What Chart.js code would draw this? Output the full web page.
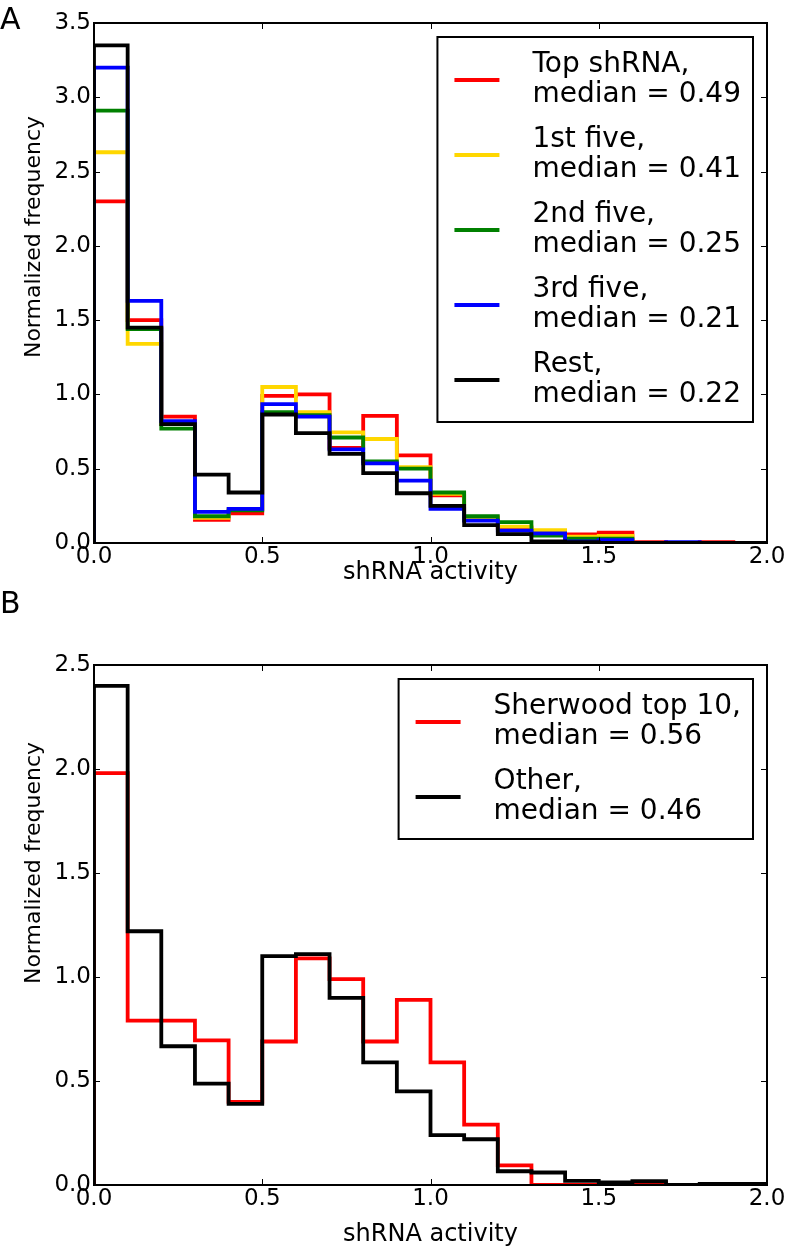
<!DOCTYPE html>
<html>
<head>
<meta charset="utf-8">
<script src="https://cdn.jsdelivr.net/npm/chart.js@4.4.1/dist/chart.umd.min.js"></script>
<style>
body { margin: 0; background: #fff; }
canvas { display: block; }
</style>
</head>
<body>
<canvas id="chartA" width="789" height="590"></canvas>
<canvas id="chartB" width="789" height="657"></canvas>
<script>
let BIN_EDGES = [0.0, 0.1, 0.2, 0.3, 0.4, 0.5, 0.6, 0.7, 0.8, 0.9, 1.0,
	1.1, 1.2, 1.3, 1.4, 1.5, 1.6, 1.7, 1.8, 1.9, 2.0];
let X_TICKS = [0.0, 0.5, 1.0, 1.5, 2.0];
let Y_TICKS_A = [0.0, 0.5, 1.0, 1.5, 2.0, 2.5, 3.0, 3.5];
let Y_TICKS_B = [0.0, 0.5, 1.0, 1.5, 2.0, 2.5];

// panel A
let LABELS_A = ['Top shRNA,\nmedian = 0.49', '1st five,\nmedian = 0.41', '2nd five,\nmedian = 0.25',
	'3rd five,\nmedian = 0.21', 'Rest,\nmedian = 0.22'];
let TOP_SHRNA = [2.30, 1.50, 0.85, 0.155, 0.20, 0.99, 1.00, 0.64, 0.855, 0.59,
	0.32, 0.17, 0.10, 0.08, 0.058, 0.07, 0.005, 0.0, 0.005, 0.0];
let FIRST_FIVE = [2.63, 1.34, 0.80, 0.17, 0.23, 1.05, 0.88, 0.745, 0.70, 0.51,
	0.33, 0.17, 0.11, 0.087, 0.042, 0.047, 0.0, 0.0, 0.0, 0.0];
let SECOND_FIVE = [2.91, 1.44, 0.77, 0.18, 0.22, 0.88, 0.86, 0.71, 0.55, 0.50,
	0.34, 0.18, 0.14, 0.05, 0.03, 0.03, 0.0, 0.0, 0.0, 0.0];
let THIRD_FIVE = [3.20, 1.63, 0.82, 0.21, 0.23, 0.935, 0.85, 0.63, 0.536, 0.42,
	0.23, 0.15, 0.083, 0.065, 0.01, 0.02, 0.0, 0.005, 0.0, 0.0];
let REST = [3.35, 1.45, 0.80, 0.46, 0.34, 0.865, 0.74, 0.60, 0.47, 0.335,
	0.25, 0.12, 0.06, 0.01, 0.005, 0.0, 0.0, 0.0, 0.0, 0.0];

// panel B
let LABELS_B = ['Sherwood top 10,\nmedian = 0.56', 'Other,\nmedian = 0.46'];
let SHERWOOD_TOP10 = [1.98, 0.79, 0.79, 0.695, 0.40, 0.69, 1.09, 0.99, 0.69, 0.89,
	0.59, 0.29, 0.094, 0.0, 0.0, 0.005, 0.01, 0.0, 0.0, 0.0];
let OTHER = [2.40, 1.22, 0.667, 0.487, 0.39, 1.10, 1.11, 0.90, 0.59, 0.45,
	0.24, 0.22, 0.066, 0.06, 0.02, 0.013, 0.018, 0.0, 0.005, 0.005];

let FONT = '"DejaVu Sans", sans-serif';

// step outline like a histtype='step' histogram
function stepPoints(values) {
	let pts = [{ x: BIN_EDGES[0], y: 0 }];
	for (let i = 0; i < values.length; i++) {
		pts.push({ x: BIN_EDGES[i], y: values[i] });
		pts.push({ x: BIN_EDGES[i + 1], y: values[i] });
	}
	pts.push({ x: BIN_EDGES[values.length], y: 0 });
	return pts;
}

function line(ctx, x1, y1, x2, y2) {
	ctx.beginPath();
	ctx.moveTo(x1, y1);
	ctx.lineTo(x2, y2);
	ctx.stroke();
}

let framePlugin = {
	id: 'frame',
	afterDatasetsDraw(chart, args, opts) {
		let ctx = chart.ctx;
		let a = chart.chartArea;
		let x = chart.scales.x, y = chart.scales.y;
		ctx.save();

		// inward ticks on all four sides
		ctx.strokeStyle = '#000';
		ctx.lineWidth = 1;
		x.ticks.forEach((t) => {
			let px = Math.round(x.getPixelForValue(t.value)) + 0.5;
			line(ctx, px, a.bottom, px, a.bottom - 6);
			line(ctx, px, a.top, px, a.top + 6);
		});
		y.ticks.forEach((t) => {
			let py = Math.round(y.getPixelForValue(t.value)) + 0.5;
			line(ctx, a.left, py, a.left + 6, py);
			line(ctx, a.right, py, a.right - 6, py);
		});
		ctx.lineWidth = 2;
		ctx.strokeRect(a.left, a.top, a.right - a.left, a.bottom - a.top);

		// legend
		let sets = chart.data.datasets;
		ctx.font = '28px ' + FONT;
		let maxW = 0;
		sets.forEach((d) => d.label.split('\n').forEach((t) => (maxW = Math.max(maxW, ctx.measureText(t).width))));
		let w = 95 + maxW + 12;
		let h = 85 + 75 * (sets.length - 1);
		let left = a.right - 14 - w;
		let top = a.top + 14;
		ctx.fillStyle = '#fff';
		ctx.fillRect(left, top, w, h);
		ctx.lineWidth = 2;
		ctx.strokeStyle = '#000';
		ctx.strokeRect(left, top, w, h);
		sets.forEach((d, i) => {
			let cy = top + 43 + 75 * i;
			ctx.strokeStyle = d.borderColor;
			ctx.lineWidth = 4;
			line(ctx, left + 17, cy, left + 62, cy);
			let rows = d.label.split('\n');
			ctx.fillStyle = '#000';
			ctx.textAlign = 'left';
			ctx.textBaseline = 'alphabetic';
			ctx.fillText(rows[0], left + 95, cy - 8.5);
			ctx.fillText(rows[1], left + 95, cy + 21.5);
		});

		// y axis label
		ctx.save();
		ctx.translate(34, opts.yLabelCenter);
		ctx.rotate(-Math.PI / 2);
		ctx.font = '22px ' + FONT;
		ctx.fillStyle = '#000';
		ctx.textAlign = 'center';
		ctx.textBaseline = 'middle';
		ctx.fillText('Normalized frequency', 0, 0);
		ctx.restore();

		// panel letter
		ctx.font = '30px ' + FONT;
		ctx.fillStyle = '#000';
		ctx.textAlign = 'left';
		ctx.textBaseline = 'alphabetic';
		ctx.fillText(opts.letter, 0, opts.letterY);

		ctx.restore();
	},
};

function makeChart(id, series, labels, colors, yTicks, pad, xAxisHeight, titlePad, frameOpts) {
	let ctx = document.getElementById(id).getContext('2d');
	let n = series.length;
	return new Chart(ctx, {
		type: 'line',
		data: {
			datasets: series.map((vals, idx) => {
				return {
					label: labels[idx],
					data: stepPoints(vals),
					borderColor: colors[idx],
					borderWidth: 3.8,
					borderJoinStyle: 'miter',
					borderCapStyle: 'butt',
					pointRadius: 0,
					fill: false,
					tension: 0,
					order: n - 1 - idx,
				};
			}),
		},
		options: {
			responsive: false,
			animation: false,
			devicePixelRatio: 1,
			layout: { padding: { top: pad.top, right: 22, left: 0, bottom: 0 } },
			plugins: {
				legend: { display: false },
				tooltip: { enabled: false },
				frame: frameOpts,
			},
			scales: {
				x: {
					type: 'linear',
					min: X_TICKS[0],
					max: X_TICKS[X_TICKS.length - 1],
					afterBuildTicks: (s) => {
						s.ticks = X_TICKS.map((v) => ({ value: v }));
					},
					afterFit: (s) => {
						s.height = xAxisHeight;
					},
					ticks: {
						callback: (v) => v.toFixed(1),
						font: { family: FONT, size: 23 },
						color: '#000',
						padding: 0,
						maxRotation: 0,
						autoSkip: false,
					},
					grid: { display: false, drawTicks: false },
					border: { display: false },
					title: {
						display: true,
						text: 'shRNA activity',
						font: { family: FONT, size: 24, lineHeight: 1 },
						color: '#000',
						padding: { top: 0, bottom: titlePad },
					},
				},
				y: {
					type: 'linear',
					min: yTicks[0],
					max: yTicks[yTicks.length - 1],
					afterBuildTicks: (s) => {
						s.ticks = yTicks.map((v) => ({ value: v }));
					},
					afterFit: (s) => {
						s.width = 94;
					},
					ticks: {
						callback: (v) => v.toFixed(1),
						font: { family: FONT, size: 23 },
						color: '#000',
						padding: 3,
						autoSkip: false,
					},
					grid: { display: false, drawTicks: false },
					border: { display: false },
				},
			},
		},
		plugins: [framePlugin],
	});
}

let COLORS_A = ['#ff0000', '#ffd700', '#008000', '#0000ff', '#000000'];
let COLORS_B = ['#ff0000', '#000000'];

makeChart('chartA', [TOP_SHRNA, FIRST_FIVE, SECOND_FIVE, THIRD_FIVE, REST], LABELS_A, COLORS_A,
	Y_TICKS_A, { top: 23 }, 47, 5, { letter: 'A', letterY: 29, yLabelCenter: 237 });
makeChart('chartB', [SHERWOOD_TOP10, OTHER], LABELS_B, COLORS_B,
	Y_TICKS_B, { top: 75 }, 62, 0, { letter: 'B', letterY: 23, yLabelCenter: 273 });
</script>
</body>
</html>
